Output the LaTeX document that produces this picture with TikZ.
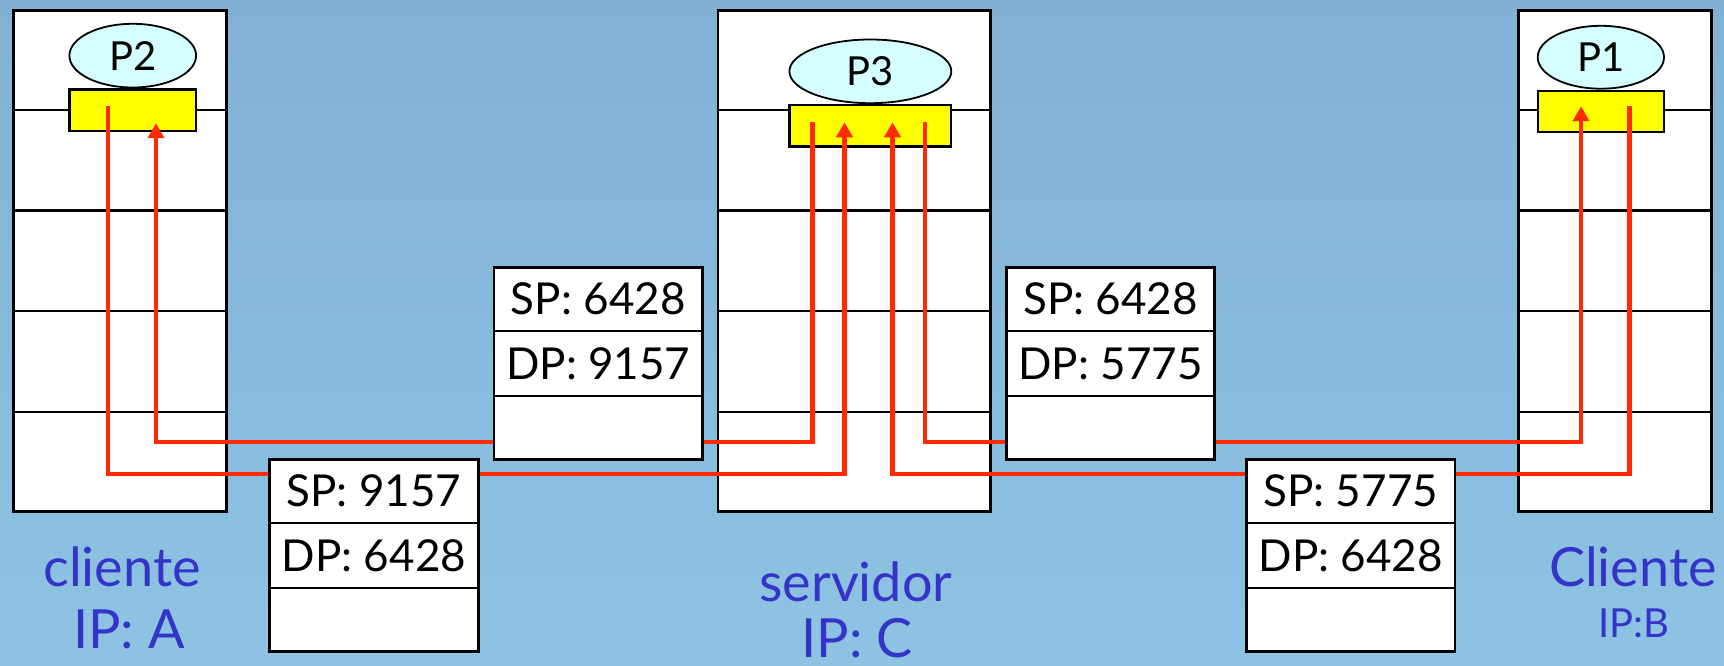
\documentclass[tikz,border=0pt]{standalone}
\usepackage{fontspec}
\setmainfont{Lato}
\usetikzlibrary{arrows.meta,calc,shapes.geometric}
\definecolor{bgtop}{HTML}{82B1D3}
\definecolor{bgbot}{HTML}{8EC3E3}
\definecolor{flowred}{HTML}{FF2A00}
\definecolor{sockyel}{HTML}{FFFF00}
\definecolor{proccyan}{HTML}{D5FFFF}
\definecolor{lblblue}{HTML}{3434C8}
\tikzset{
  hostbox/.style={draw=black, fill=white, line width=2.8pt, anchor=north west, inner sep=0pt, minimum height=500.5pt},
  layerline/.style={draw=black, line width=2.3pt},
  procnode/.style={ellipse, draw=black, fill=proccyan, line width=1.8pt, inner sep=0pt, anchor=south, font=\fontsize{40}{40}\selectfont},
  sockbox/.style={draw=black, fill=sockyel, line width=2.2pt, anchor=north west, inner sep=0pt, minimum height=41.4pt},
  segbox/.style={draw=black, fill=white, line width=2.8pt, anchor=north west, inner sep=0pt, minimum width=208.4pt, minimum height=192pt},
  segtext/.style={font=\fontsize{44}{44}\selectfont, inner sep=0pt, text depth=0pt},
  flow/.style={draw=flowred, line width=4.2pt},
  flowarr/.style={flow, -{Triangle[length=15pt,width=16pt]}},
  bluelbl/.style={text=lblblue, inner sep=0pt, anchor=base, font=\fontsize{54}{54}\selectfont}
}
\newcommand{\seglines}[1]{%
  \draw[layerline, line width=2.5pt] ($(#1.north west)!1/3!(#1.south west)$) -- ($(#1.north east)!1/3!(#1.south east)$);
  \draw[layerline, line width=2.5pt] ($(#1.north west)!2/3!(#1.south west)$) -- ($(#1.north east)!2/3!(#1.south east)$);
}
\begin{document}
\begin{tikzpicture}[x=1pt,y=-1pt]
\useasboundingbox (0,0) rectangle (1724,666);
\shade[top color=bgtop, bottom color=bgbot] (0,0) rectangle (1724,666);

% hosts
\node[hostbox, minimum width=212.7pt] (hA) at (12.3,9.3) {};
\node[hostbox, minimum width=272.5pt] (hC) at (716.5,9.3) {};
\node[hostbox, minimum width=192.9pt] (hB) at (1516.8,9.3) {};
\foreach \h in {hA,hC,hB}{
  \foreach \f in {0.2,0.4,0.6,0.8}{
    \draw[layerline] ($(\h.north west)!\f!(\h.south west)$) -- ($(\h.north east)!\f!(\h.south east)$);
  }
}

% sockets and processes
\node[sockbox, minimum width=126.7pt] (sA) at (68.3,88.4) {};
\node[sockbox, minimum width=161.9pt] (sC) at (788.3,104.1) {};
\node[sockbox, minimum width=126.3pt] (sB) at (1536.6,89.6) {};
\node[procnode, minimum width=126.7pt, minimum height=63.7pt] (p2) at (sA.north) {P2};
\node[procnode, minimum width=161.9pt, minimum height=63.7pt] (p3) at (sC.north) {P3};
\node[procnode, minimum width=126.3pt, minimum height=62.9pt] (p1) at (sB.north) {P1};

% connector end points
\coordinate (a1) at (108.3,106.2);
\coordinate (a2) at (156,123.2);
\coordinate (c1) at (812.5,122.3);
\coordinate (c2) at (844.5,122.3);
\coordinate (c3) at (892.5,122.3);
\coordinate (c4) at (925,122.3);
\coordinate (b1) at (1581,106.2);
\coordinate (b2) at (1629.5,106.2);
\coordinate (q1) at (844.5,473.7);
\coordinate (q2) at (156,441.8);
\coordinate (q3) at (892.5,473.7);
\coordinate (q4) at (1581,441.8);

\draw[flowarr] (a1) |- (q1) -- (c2);
\draw[flowarr] (c1) |- (q2) -- (a2);
\draw[flowarr] (b2) |- (q3) -- (c3);
\draw[flowarr] (c4) |- (q4) -- (b1);

% segments
\node[segbox] (g1) at (268.3,458) {};
\node[segbox] (g2) at (492.6,266) {};
\node[segbox] (g3) at (1005,266) {};
\node[segbox] (g4) at (1245.1,458) {};
\seglines{g1}\seglines{g2}\seglines{g3}\seglines{g4}
\node[segtext] (g1a) at ($(g1.north)!1/6!(g1.south)$) {SP: 9157};
\node[segtext] (g1b) at ($(g1.north)!1/2!(g1.south)$) {DP: 6428};
\node[segtext] (g2a) at ($(g2.north)!1/6!(g2.south)$) {SP: 6428};
\node[segtext] (g2b) at ($(g2.north)!1/2!(g2.south)$) {DP: 9157};
\node[segtext] (g3a) at ($(g3.north)!1/6!(g3.south)$) {SP: 6428};
\node[segtext] (g3b) at ($(g3.north)!1/2!(g3.south)$) {DP: 5775};
\node[segtext] (g4a) at ($(g4.north)!1/6!(g4.south)$) {SP: 5775};
\node[segtext] (g4b) at ($(g4.north)!1/2!(g4.south)$) {DP: 6428};

% labels
\node[bluelbl] (lA1) at (122,586) {cliente};
\node[bluelbl] (lA2) at (129,648) {IP: A};
\node[bluelbl] (lC1) at (856,601) {servidor};
\node[bluelbl] (lC2) at (857,657) {IP: C};
\node[bluelbl] (lB1) at (1633,586) {Cliente};
\node[bluelbl, font=\fontsize{40}{40}\selectfont] (lB2) at (1634,637) {IP:B};
\end{tikzpicture}
\end{document}
